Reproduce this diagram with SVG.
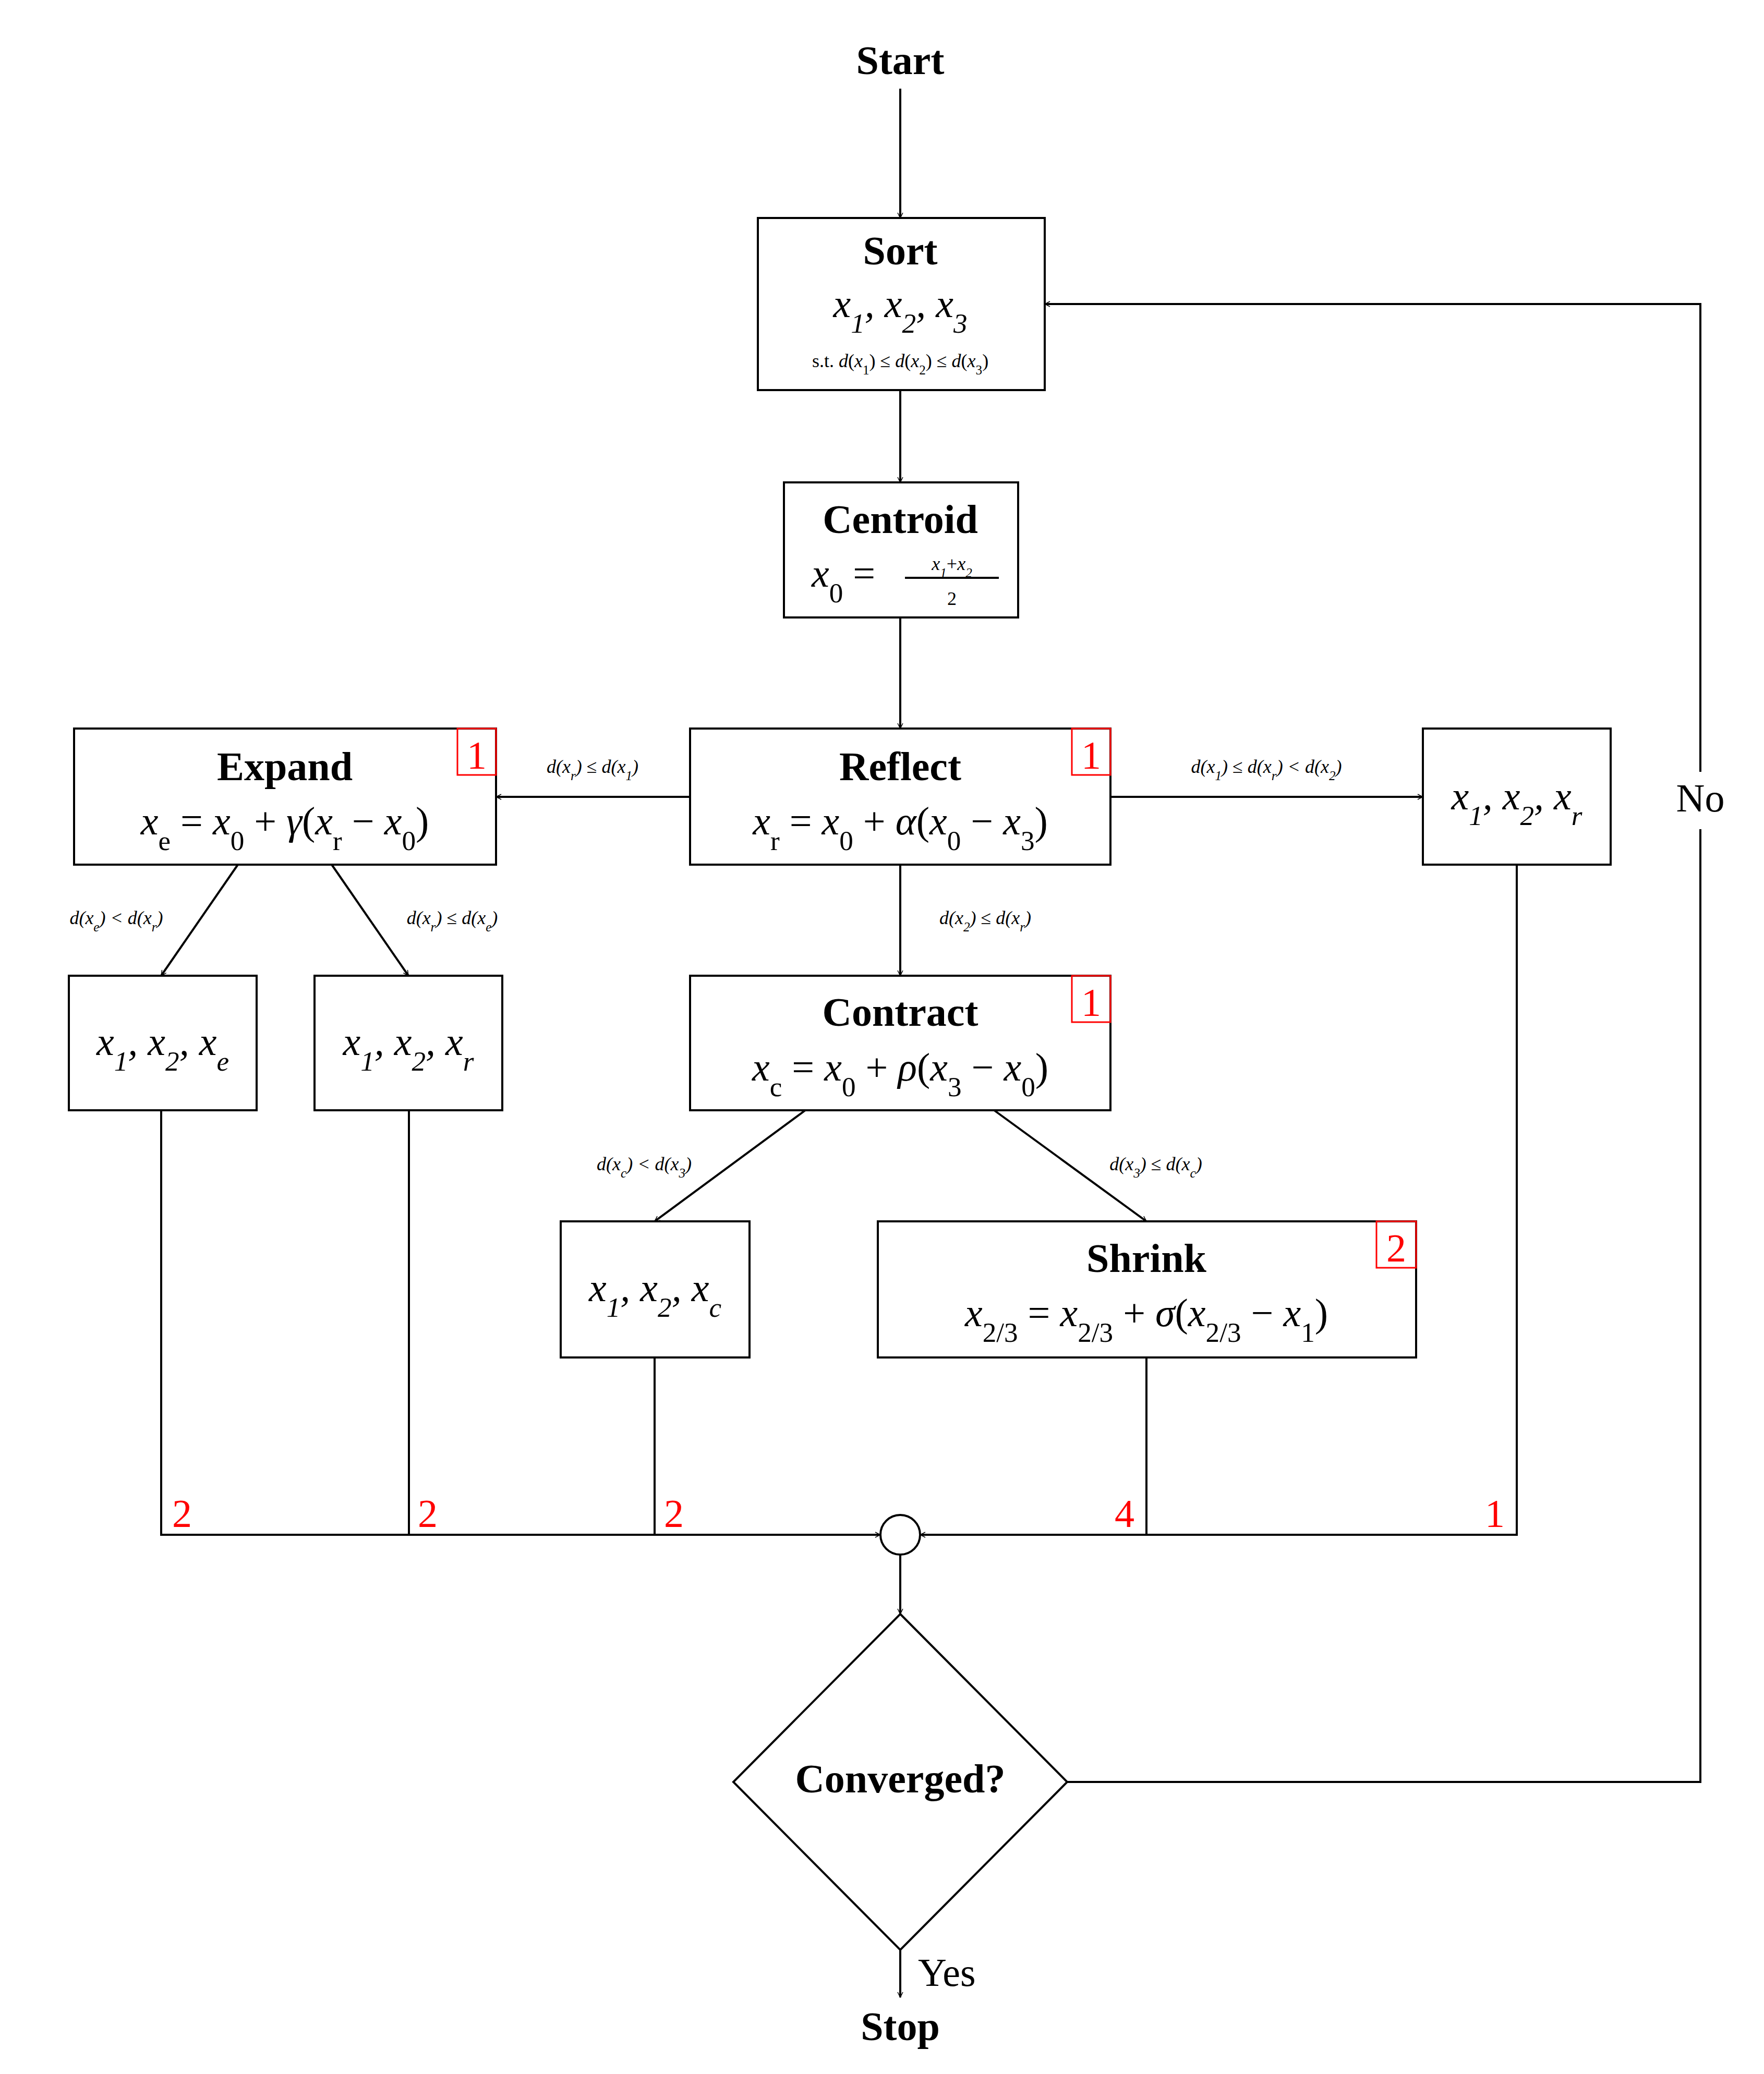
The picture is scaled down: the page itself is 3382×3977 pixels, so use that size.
<svg xmlns="http://www.w3.org/2000/svg" width="3382" height="3977" viewBox="0 0 3382 3977">
<style>
text{font-family:"Liberation Serif","DejaVu Serif",serif;fill:#000}
.t{font-weight:bold;font-size:78px;text-anchor:middle}
.m{font-size:76px;text-anchor:middle}
.i{font-style:italic}
.s{font-size:36px;text-anchor:middle}
.sub{font-size:70%;baseline-shift:sub}
.r{fill:red;font-size:76px}
.box{fill:#fff;stroke:#000;stroke-width:4}
.rb{fill:none;stroke:red;stroke-width:3}
.ln{fill:none;stroke:#000;stroke-width:4}
</style>
<defs>
<marker id="a" viewBox="0 0 12 12" refX="11" refY="6" markerWidth="12" markerHeight="12" markerUnits="userSpaceOnUse" orient="auto"><path d="M1,1 L11,6 L1,11" fill="none" stroke="#000" stroke-width="1.5"/></marker>
</defs>
<rect width="3382" height="3977" fill="#fff"/>
<g id="connectors" class="ln">
<path d="M1726,170 V418" marker-end="url(#a)"/>
<path d="M1726,748 V925" marker-end="url(#a)"/>
<path d="M1726,1184 V1397" marker-end="url(#a)"/>
<path d="M1323,1528 H951" marker-end="url(#a)"/>
<path d="M2129,1528 H2728" marker-end="url(#a)"/>
<path d="M1726,1658 V1871" marker-end="url(#a)"/>
<path d="M456,1658 L309,1871" marker-end="url(#a)"/>
<path d="M636,1658 L783,1871" marker-end="url(#a)"/>
<path d="M1544,2129 L1255,2342" marker-end="url(#a)"/>
<path d="M1906,2129 L2198,2342" marker-end="url(#a)"/>
<path d="M309,2129 V2943 H1688" marker-end="url(#a)"/>
<path d="M784,2129 V2943"/>
<path d="M1255,2603 V2943"/>
<path d="M2908,1658 V2943 H1764" marker-end="url(#a)"/>
<path d="M2198,2603 V2943"/>
<path d="M1726,2981 V3095" marker-end="url(#a)"/>
<path d="M1726,3739 V3830" marker-end="url(#a)"/>
<path d="M2046,3417 H3260 V1590"/>
<path d="M3260,1480 V583 H2003" marker-end="url(#a)"/>
</g>
<g id="labels">
<text class="s i" x="1136" y="1482">d(x<tspan class="sub">r</tspan>) <tspan font-style="normal">≤</tspan> d(x<tspan class="sub">1</tspan>)</text>
<text class="s i" x="2428" y="1482">d(x<tspan class="sub">1</tspan>) <tspan font-style="normal">≤</tspan> d(x<tspan class="sub">r</tspan>) &lt; d(x<tspan class="sub">2</tspan>)</text>
<text class="s i" x="1889" y="1772">d(x<tspan class="sub">2</tspan>) <tspan font-style="normal">≤</tspan> d(x<tspan class="sub">r</tspan>)</text>
<text class="s i" x="223" y="1772">d(x<tspan class="sub">e</tspan>) &lt; d(x<tspan class="sub">r</tspan>)</text>
<text class="s i" x="867" y="1772">d(x<tspan class="sub">r</tspan>) <tspan font-style="normal">≤</tspan> d(x<tspan class="sub">e</tspan>)</text>
<text class="s i" x="1235" y="2244">d(x<tspan class="sub">c</tspan>) &lt; d(x<tspan class="sub">3</tspan>)</text>
<text class="s i" x="2216" y="2244">d(x<tspan class="sub">3</tspan>) <tspan font-style="normal">≤</tspan> d(x<tspan class="sub">c</tspan>)</text>
<text class="r" x="330" y="2928">2</text>
<text class="r" x="801" y="2928">2</text>
<text class="r" x="1273" y="2928">2</text>
<text class="r" x="2137" y="2928">4</text>
<text class="r" x="2847" y="2928">1</text>
<text x="1760" y="3808" font-size="76">Yes</text>
<text x="3260" y="1556" font-size="76" text-anchor="middle">No</text>
</g>
<g id="start"><text class="t" x="1726" y="142">Start</text></g>
<g id="sort">
<rect class="box" x="1453" y="418" width="550" height="330"/>
<text class="t" x="1726" y="507">Sort</text>
<text class="m i" x="1726" y="608">x<tspan class="sub">1</tspan>, x<tspan class="sub">2</tspan>, x<tspan class="sub">3</tspan></text>
<text class="s" x="1726" y="704">s.t. <tspan class="i">d</tspan>(<tspan class="i">x</tspan><tspan class="sub">1</tspan>) ≤ <tspan class="i">d</tspan>(<tspan class="i">x</tspan><tspan class="sub">2</tspan>) ≤ <tspan class="i">d</tspan>(<tspan class="i">x</tspan><tspan class="sub">3</tspan>)</text>
</g>
<g id="centroid">
<rect class="box" x="1503" y="925" width="449" height="259"/>
<text class="t" x="1726" y="1022">Centroid</text>
<text class="m" x="1617" y="1125"><tspan class="i">x</tspan><tspan class="sub">0</tspan> =</text>
<text class="s i" x="1825" y="1093" font-size="56">x<tspan class="sub">1</tspan><tspan font-style="normal">+</tspan>x<tspan class="sub">2</tspan></text>
<line class="ln" x1="1735" y1="1108" x2="1915" y2="1108" stroke-width="3"/>
<text class="s" x="1825" y="1160" font-size="56">2</text>
</g>
<g id="reflect">
<rect class="box" x="1323" y="1397" width="806" height="261"/>
<text class="t" x="1726" y="1496">Reflect</text>
<text class="m" x="1726" y="1600"><tspan class="i">x</tspan><tspan class="sub">r</tspan> = <tspan class="i">x</tspan><tspan class="sub">0</tspan> + <tspan class="i">α</tspan>(<tspan class="i">x</tspan><tspan class="sub">0</tspan> − <tspan class="i">x</tspan><tspan class="sub">3</tspan>)</text>
<rect class="rb" x="2055" y="1397" width="74" height="89"/>
<text class="r" x="2092" y="1474" text-anchor="middle">1</text>
</g>
<g id="expand">
<rect class="box" x="142" y="1397" width="809" height="261"/>
<text class="t" x="546" y="1496">Expand</text>
<text class="m" x="546" y="1600"><tspan class="i">x</tspan><tspan class="sub">e</tspan> = <tspan class="i">x</tspan><tspan class="sub">0</tspan> + <tspan class="i">γ</tspan>(<tspan class="i">x</tspan><tspan class="sub">r</tspan> − <tspan class="i">x</tspan><tspan class="sub">0</tspan>)</text>
<rect class="rb" x="877" y="1397" width="74" height="89"/>
<text class="r" x="914" y="1474" text-anchor="middle">1</text>
</g>
<g id="xr_right">
<rect class="box" x="2728" y="1397" width="360" height="261"/>
<text class="m i" x="2908" y="1552">x<tspan class="sub">1</tspan>, x<tspan class="sub">2</tspan>, x<tspan class="sub">r</tspan></text>
</g>
<g id="contract">
<rect class="box" x="1323" y="1871" width="806" height="258"/>
<text class="t" x="1726" y="1967">Contract</text>
<text class="m" x="1726" y="2072"><tspan class="i">x</tspan><tspan class="sub">c</tspan> = <tspan class="i">x</tspan><tspan class="sub">0</tspan> + <tspan class="i">ρ</tspan>(<tspan class="i">x</tspan><tspan class="sub">3</tspan> − <tspan class="i">x</tspan><tspan class="sub">0</tspan>)</text>
<rect class="rb" x="2055" y="1871" width="74" height="89"/>
<text class="r" x="2092" y="1948" text-anchor="middle">1</text>
</g>
<g id="xe_box">
<rect class="box" x="132" y="1871" width="360" height="258"/>
<text class="m i" x="312" y="2023">x<tspan class="sub">1</tspan>, x<tspan class="sub">2</tspan>, x<tspan class="sub">e</tspan></text>
</g>
<g id="xr_left">
<rect class="box" x="603" y="1871" width="360" height="258"/>
<text class="m i" x="783" y="2023">x<tspan class="sub">1</tspan>, x<tspan class="sub">2</tspan>, x<tspan class="sub">r</tspan></text>
</g>
<g id="xc_box">
<rect class="box" x="1075" y="2342" width="362" height="261"/>
<text class="m i" x="1256" y="2495">x<tspan class="sub">1</tspan>, x<tspan class="sub">2</tspan>, x<tspan class="sub">c</tspan></text>
</g>
<g id="shrink">
<rect class="box" x="1683" y="2342" width="1032" height="261"/>
<text class="t" x="2198" y="2439">Shrink</text>
<text class="m" x="2198" y="2543"><tspan class="i">x</tspan><tspan class="sub">2/3</tspan> = <tspan class="i">x</tspan><tspan class="sub">2/3</tspan> + <tspan class="i">σ</tspan>(<tspan class="i">x</tspan><tspan class="sub">2/3</tspan> − <tspan class="i">x</tspan><tspan class="sub">1</tspan>)</text>
<rect class="rb" x="2639" y="2342" width="76" height="89"/>
<text class="r" x="2677" y="2419" text-anchor="middle">2</text>
</g>
<g id="join"><circle class="box" cx="1726" cy="2943" r="38"/></g>
<g id="converged">
<path class="box" d="M1726,3095 L2046,3417 L1726,3739 L1406,3417 Z"/>
<text class="t" x="1726" y="3437">Converged?</text>
</g>
<g id="stop"><text class="t" x="1726" y="3912">Stop</text></g>
</svg>
